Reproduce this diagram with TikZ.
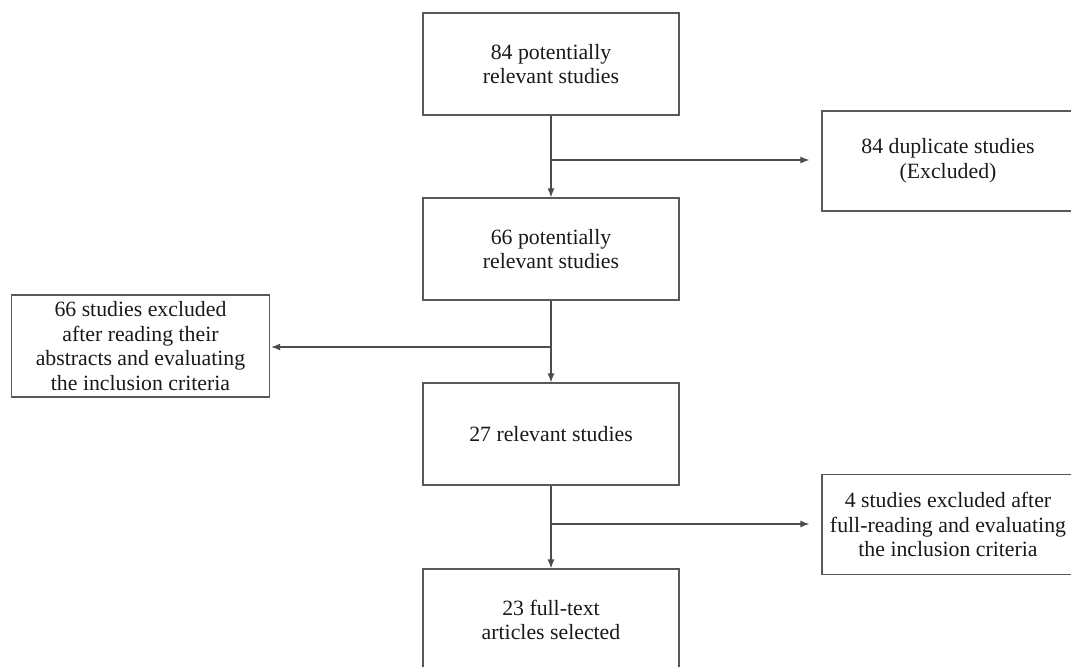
\documentclass[tikz,border=0pt]{standalone}
\usepackage{fontspec}
\setmainfont{Liberation Serif}
\usetikzlibrary{arrows.meta}

\begin{document}
\begin{tikzpicture}[
  x=0.025cm, y=-0.025cm,
  font=\fontsize{15.5}{17.5}\selectfont,
  box/.style={draw=black!65, line width=0.8pt, align=center, text=black!90,
              minimum width=6.4cm, minimum height=2.55cm, inner sep=2pt},
  side/.style={box, minimum width=6.3cm, minimum height=2.5cm},
  edge/.style={draw=black!70, line width=0.8pt},
  flow/.style={edge, -{Latex[length=6.5pt,width=5pt]}}
]
\clip (0,0) rectangle (1071,666);
\node[box] (s84) at (551,64) {84 potentially\\relevant studies};
\node[side] (dup) at (948,161) {84 duplicate studies\\(Excluded)};
\node[box] (s66) at (551,249) {66 potentially\\relevant studies};
\node[box, minimum width=6.43cm] (abs) at (140.5,346) {66 studies excluded\\after reading their\\abstracts and evaluating\\the inclusion criteria};
\node[box] (s27) at (551,434) {27 relevant studies};
\node[side] (full) at (948,524.5) {4 studies excluded after\\full-reading and evaluating\\the inclusion criteria};
\node[box] (s23) at (551,620) {23 full-text\\articles selected};
\coordinate (j1) at (551,160);
\coordinate (j2) at (551,347);
\coordinate (j3) at (551,524);
\draw[flow] (s84) -- (s66);
\draw[flow] (s66) -- (s27);
\draw[flow] (s27) -- (s23);
\draw[flow, shorten >=0.3cm] (j1) -- (j1 -| dup.west);
\draw[flow, shorten >=1pt] (j2) -- (j2 -| abs.east);
\draw[flow, shorten >=0.3cm] (j3) -- (j3 -| full.west);
\end{tikzpicture}
\end{document}
